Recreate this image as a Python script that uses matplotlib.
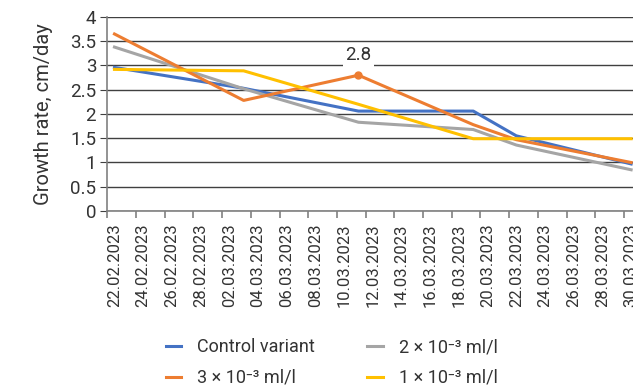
#!/usr/bin/env python3
#
# Growth rate of shoots for several concentrations
#
import datetime

import matplotlib
matplotlib.use('Agg')
import matplotlib.pyplot as plt

plt.rcParams['font.family'] = ['Roboto', 'DejaVu Sans']

# Data
start = datetime.date(2023, 2, 22)
dates = ['22.02.2023', '03.03.2023', '11.03.2023', '19.03.2023',
         '22.03.2023', '30.03.2023']
control = [2.96, 2.53, 2.06, 2.06, 1.55, 0.97]
conc2 = [3.38, 2.52, 1.83, 1.68, 1.36, 0.85]
conc3 = [3.65, 2.28, 2.80, 1.78, 1.47, 1.00]
conc1 = [2.92, 2.89, 2.20, 1.49, 1.49, 1.49]
peak = 2    # labelled point of the 3 x 10^-3 series

tick_labels = ['22.02.2023', '24.02.2023', '26.02.2023', '28.02.2023',
               '02.03.2023', '04.03.2023', '06.03.2023', '08.03.2023',
               '10.03.2023', '12.03.2023', '14.03.2023', '16.03.2023',
               '18.03.2023', '20.03.2023', '22.03.2023', '24.03.2023',
               '26.03.2023', '28.03.2023', '30.03.2023']


def day(s):
    """ Days since the first date. """
    return (datetime.datetime.strptime(s, '%d.%m.%Y').date() - start).days


x = [day(s) for s in dates]
xt = [day(s) for s in tick_labels]

# Figure
fig = plt.figure(figsize=(6.33, 3.92), dpi=100)
ax = fig.add_axes([107.3 / 633, 1 - 211 / 392, 1 - 107.3 / 633, 194 / 392])

grid_c = '#404040'
spine_c = '#808080'
text_c = '#333333'

ax.set_ylim(0, 4)
ax.set_xlim(-0.5, 36.13)
ax.set_yticks([0, 0.5, 1, 1.5, 2, 2.5, 3, 3.5, 4])
ax.set_yticklabels(['0', '0.5', '1', '1.5', '2', '2.5', '3', '3.5', '4'])
ax.yaxis.grid(True, color=grid_c, lw=1)
ax.set_axisbelow(True)
for s in ['top', 'right']:
    ax.spines[s].set_visible(False)
for s in ['left', 'bottom']:
    ax.spines[s].set_color(spine_c)
    ax.spines[s].set_linewidth(1.2)
ax.tick_params(axis='y', length=5, color=grid_c, labelsize=13.5, pad=3,
               labelcolor=text_c)

# Ticks between days, labels centred on days
ax.set_xticks([d - 0.5 for d in xt])
ax.set_xticklabels([])
ax.tick_params(axis='x', which='major', length=5, color=spine_c, width=1.2)
ax.set_xticks(xt, minor=True)
ax.set_xticklabels(tick_labels, minor=True, rotation=90, fontsize=12,
                   color=text_c)
ax.tick_params(axis='x', which='minor', length=0, pad=9)

ax.set_ylabel('Growth rate, cm/day', fontsize=14.5, color=text_c,
              labelpad=12)

lw = 2.2
l1, = ax.plot(x, control, color='#4472C4', lw=lw, label='Control variant')
l2, = ax.plot(x, conc2, color='#A5A5A5', lw=lw,
              label='2 × 10⁻³ ml/l')
l3, = ax.plot(x, conc3, color='#ED7D31', lw=lw,
              label='3 × 10⁻³ ml/l')
l4, = ax.plot(x, conc1, color='#FFC000', lw=lw,
              label='1 × 10⁻³ ml/l')

# Highlighted point
ax.plot(x[peak], conc3[peak], 'o', color='#ED7D31', markersize=5)
ax.annotate(f'{conc3[peak]:.1f}', (x[peak], conc3[peak]), xytext=(0, 8),
            textcoords='offset points', ha='center', va='bottom',
            fontsize=13.5, color=text_c,
            bbox=dict(facecolor='white', edgecolor='none', pad=2))

fig.legend(handles=[l1, l3, l2, l4], loc='center', ncol=2,
           bbox_to_anchor=(0.524, 0.075), frameon=False, fontsize=13,
           handlelength=0.85, columnspacing=2.9, labelspacing=0.7,
           handletextpad=0.9, labelcolor=text_c)

fig.savefig('out.png', dpi=100)
